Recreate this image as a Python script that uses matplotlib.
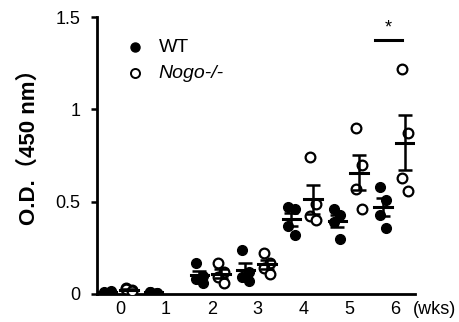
import numpy as np
import matplotlib
matplotlib.use('Agg')
import matplotlib.pyplot as plt

plt.rcParams['font.family'] = ['Liberation Sans', 'DejaVu Sans']

# Data (O.D. 450 nm, four mice per group)
weeks_wt = [0, 1, 2, 3, 4, 5, 6]
wt_values = [
    [0.01, 0.012, 0.008, 0.015],
    [0.01, 0.008, 0.012, 0.006],
    [0.17, 0.10, 0.08, 0.06],
    [0.24, 0.12, 0.09, 0.07],
    [0.47, 0.46, 0.37, 0.32],
    [0.46, 0.43, 0.39, 0.30],
    [0.58, 0.51, 0.43, 0.36],
]
weeks_ko = [0, 2, 3, 4, 5, 6]
ko_values = [
    [0.03, 0.02, 0.025, 0.015],
    [0.17, 0.12, 0.09, 0.06],
    [0.22, 0.17, 0.14, 0.11],
    [0.74, 0.49, 0.42, 0.40],
    [0.90, 0.70, 0.57, 0.46],
    [1.22, 0.87, 0.63, 0.56],
]
xticks = [0, 1, 2, 3, 4, 5, 6]
yticks = [0, 0.5, 1, 1.5]
ytick_labels = ['0', '0.5', '1', '1.5']

fig = plt.figure(figsize=(4.59, 3.22), dpi=100)
ax = fig.add_axes([0.211, 0.087, 0.693, 0.86])

jitter = [-0.07, 0.07, -0.07, 0.07]
wt_shift = -0.27
ko_shift = 0.2


def draw_group(weeks, values, shift, filled):
    for wk, vals in zip(weeks, values):
        xs = [wk + shift + j for j in jitter]
        if filled:
            ax.plot(xs, vals, 'o', color='black', markersize=7, zorder=3)
        else:
            ax.plot(xs, vals, 'o', markerfacecolor='white', markeredgecolor='black',
                    markeredgewidth=1.6, markersize=7, zorder=3)
        m = np.mean(vals)
        sem = np.std(vals, ddof=1) / np.sqrt(len(vals))
        ax.errorbar(wk + shift, m, yerr=sem, color='black', capsize=5,
                    elinewidth=1.8, capthick=1.8, zorder=4)
        ax.plot([wk + shift - 0.19, wk + shift + 0.19], [m, m], color='black',
                linewidth=2.2, zorder=4)


draw_group(weeks_wt, wt_values, wt_shift, True)
draw_group(weeks_ko, ko_values, ko_shift, False)

# significance bar at week 6
ax.plot([5.55, 6.13], [1.375, 1.375], color='black', linewidth=2.2, clip_on=False)
ax.text(5.84, 1.44, '*', fontsize=13, ha='center', va='center')

# legend drawn by hand
ax.plot(0.33, 1.337, 'o', color='black', markersize=6.5, clip_on=False)
ax.plot(0.33, 1.197, 'o', markerfacecolor='white', markeredgecolor='black',
        markeredgewidth=1.4, markersize=6.5, clip_on=False)
ax.text(0.85, 1.337, 'WT', fontsize=14, ha='left', va='center')
ax.text(0.85, 1.197, 'Nogo-/-', fontsize=14, ha='left', va='center', style='italic')

ax.set_xlim(-0.5, 6.42)
ax.set_ylim(0, 1.5)
ax.set_xticks(xticks)
ax.set_xticklabels([str(t) for t in xticks], fontsize=13)
ax.set_yticks(yticks)
ax.set_yticklabels(ytick_labels, fontsize=13)
ax.tick_params(axis='x', length=0, pad=5)
ax.tick_params(axis='y', length=4, width=1.8, pad=8)
ax.text(6.85, -0.025, '(wks)', fontsize=13, ha='center', va='top',
        transform=ax.get_xaxis_transform(), clip_on=False)

for side in ['top', 'right']:
    ax.spines[side].set_visible(False)
for side in ['left', 'bottom']:
    ax.spines[side].set_linewidth(2)

ax.set_ylabel('O.D.\uff08450 nm\uff09', fontsize=16, fontweight='bold',
              family=['Liberation Sans', 'Noto Sans CJK SC'])
ax.yaxis.set_label_coords(-0.18, 0.55)

fig.savefig('out.png', dpi=100)
